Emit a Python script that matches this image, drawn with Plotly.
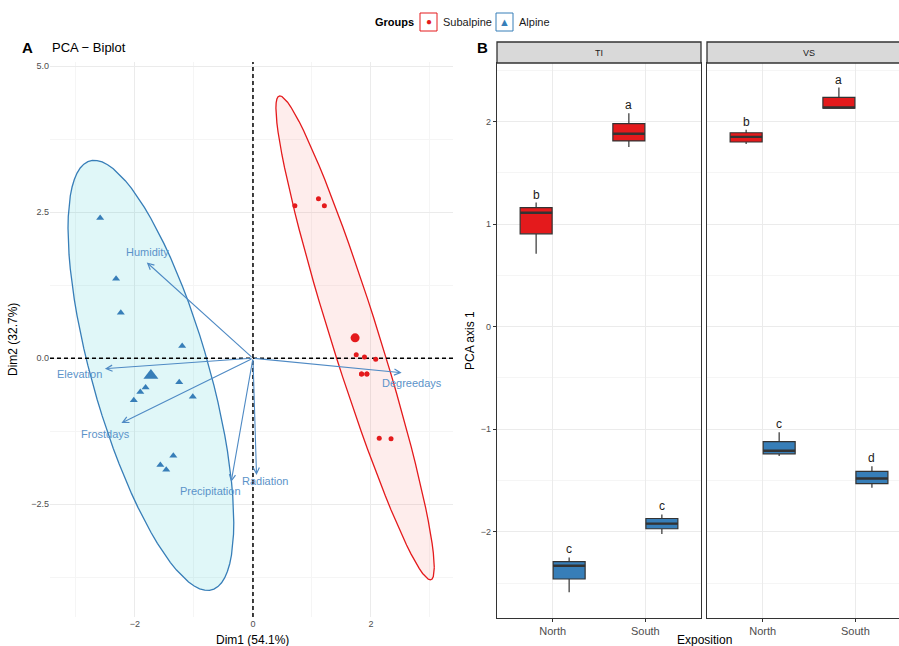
import numpy as np
import plotly.graph_objects as go

# ---------------- PCA biplot data ----------------
alpine_dim1 = [-2.59, -2.32, -2.24, -1.20, -1.25, -1.82, -1.91, -2.02, -1.02, -1.35, -1.57, -1.47]
alpine_dim2 = [2.40, 1.36, 0.78, 0.21, -0.41, -0.50, -0.58, -0.72, -0.66, -1.67, -1.83, -1.91]
subalpine_dim1 = [0.71, 1.11, 1.21, 1.75, 1.89, 2.08, 1.84, 1.93, 1.84, 1.93, 2.14, 2.34]
subalpine_dim2 = [2.61, 2.73, 2.61, 0.06, 0.02, -0.02, -0.27, -0.27, -0.27, -0.27, -1.37, -1.38]

variables = ["Humidity", "Elevation", "Frostdays", "Precipitation", "Radiation", "Degreedays"]
var_dim1 = [-1.80, -2.51, -2.23, -0.37, 0.06, 2.52]
var_dim2 = [1.64, -0.18, -1.11, -2.12, -2.00, -0.25]

# ---------------- Boxplot data (PCA axis 1) ----------------
exposition = ["North", "South"]

ti_sub_low = [0.71, 1.75]
ti_sub_q1 = [0.905, 1.81]
ti_sub_med = [1.11, 1.88]
ti_sub_q3 = [1.16, 1.98]
ti_sub_high = [1.21, 2.08]
ti_sub_letters = ["b", "a"]

ti_alp_low = [-2.59, -2.02]
ti_alp_q1 = [-2.46, -1.97]
ti_alp_med = [-2.33, -1.92]
ti_alp_q3 = [-2.29, -1.87]
ti_alp_high = [-2.25, -1.83]
ti_alp_letters = ["c", "c"]

vs_sub_low = [1.78, 2.13]
vs_sub_q1 = [1.80, 2.13]
vs_sub_med = [1.85, 2.135]
vs_sub_q3 = [1.89, 2.235]
vs_sub_high = [1.92, 2.33]
vs_sub_letters = ["b", "a"]

vs_alp_low = [-1.26, -1.57]
vs_alp_q1 = [-1.24, -1.53]
vs_alp_med = [-1.21, -1.48]
vs_alp_q3 = [-1.12, -1.41]
vs_alp_high = [-1.03, -1.36]
vs_alp_letters = ["c", "d"]

RED = "#E41A1C"
BLUE = "#377EB8"
VARCOL = "#4F8AC4"
BOXLINE = "#333333"
W, H = 899, 646


def px_x(p):
    return p / W


def px_y(p):
    return 1 - p / H


def norm_ellipse(x, y, level=0.95, segments=80):
    """Normal-theory data ellipse, as computed by ggplot2::stat_ellipse(type='norm')."""
    pts = np.column_stack([x, y])
    n = len(pts)
    center = pts.mean(axis=0)
    shape = np.cov(pts, rowvar=False)
    dfd = n - 1
    radius = np.sqrt(dfd * ((1 - level) ** (-2 / dfd) - 1))
    ang = np.linspace(0, 2 * np.pi, segments + 1)
    circle = np.column_stack([np.cos(ang), np.sin(ang)])
    L = np.linalg.cholesky(shape)
    ell = center + radius * circle @ L.T
    return ell[:, 0], ell[:, 1]


fig = go.Figure()

# ellipses
for xs, ys, line_c, fill_c in [
    (alpine_dim1, alpine_dim2, BLUE, "rgba(0,191,196,0.12)"),
    (subalpine_dim1, subalpine_dim2, RED, "rgba(248,118,109,0.13)"),
]:
    ex, ey = norm_ellipse(xs, ys)
    fig.add_trace(go.Scatter(x=ex, y=ey, mode="lines", fill="toself", fillcolor=fill_c,
                             line=dict(color=line_c, width=1.3), hoverinfo="skip",
                             showlegend=False, xaxis="x", yaxis="y"))

# dashed reference lines through the origin
XR = [-3.44, 3.39]
YR = [-4.43, 5.07]
fig.add_trace(go.Scatter(x=[0, 0], y=YR, mode="lines", hoverinfo="skip",
                         line=dict(color="black", width=1.5, dash="4px,3px"),
                         showlegend=False, xaxis="x", yaxis="y"))
fig.add_trace(go.Scatter(x=XR, y=[0, 0], mode="lines", hoverinfo="skip",
                         line=dict(color="black", width=1.5, dash="4px,3px"),
                         showlegend=False, xaxis="x", yaxis="y"))

# individuals
fig.add_trace(go.Scatter(x=alpine_dim1, y=alpine_dim2, mode="markers",
                         marker=dict(symbol="triangle-up", size=7, color=BLUE),
                         showlegend=False, xaxis="x", yaxis="y"))
fig.add_trace(go.Scatter(x=subalpine_dim1, y=subalpine_dim2, mode="markers",
                         marker=dict(symbol="circle", size=5, color=RED),
                         showlegend=False, xaxis="x", yaxis="y"))
# group means
fig.add_trace(go.Scatter(x=[np.mean(alpine_dim1)], y=[np.mean(alpine_dim2)], mode="markers",
                         marker=dict(symbol="triangle-up", size=13, color=BLUE),
                         showlegend=False, xaxis="x", yaxis="y"))
fig.add_trace(go.Scatter(x=[np.mean(subalpine_dim1)], y=[np.mean(subalpine_dim2)], mode="markers",
                         marker=dict(symbol="circle", size=9, color=RED),
                         showlegend=False, xaxis="x", yaxis="y"))

# ---------------- boxplots (dodged by group) ----------------
DODGE = 0.178
BOXW = 0.345
pos = np.arange(1, len(exposition) + 1)
box_sets = [
    ("x2", "y2", ti_sub_low, ti_sub_q1, ti_sub_med, ti_sub_q3, ti_sub_high, RED, -DODGE),
    ("x2", "y2", ti_alp_low, ti_alp_q1, ti_alp_med, ti_alp_q3, ti_alp_high, BLUE, DODGE),
    ("x3", "y3", vs_sub_low, vs_sub_q1, vs_sub_med, vs_sub_q3, vs_sub_high, RED, -DODGE),
    ("x3", "y3", vs_alp_low, vs_alp_q1, vs_alp_med, vs_alp_q3, vs_alp_high, BLUE, DODGE),
]
for xa, ya, lo, q1, md, q3, hi, col, off in box_sets:
    fig.add_trace(go.Box(x=pos + off, lowerfence=lo, q1=q1, median=md, q3=q3, upperfence=hi,
                         width=BOXW, fillcolor=col, line=dict(color=BOXLINE, width=1.2),
                         whiskerwidth=0, showlegend=False, xaxis=xa, yaxis=ya, hoverinfo="skip"))
    # bold median bar, as in ggplot's geom_boxplot
    mx, my = [], []
    for p, m in zip(pos, md):
        mx += [p + off - BOXW / 2, p + off + BOXW / 2, None]
        my += [m, m, None]
    fig.add_trace(go.Scatter(x=mx, y=my, mode="lines", line=dict(color=BOXLINE, width=2.4),
                             hoverinfo="skip", showlegend=False, xaxis=xa, yaxis=ya))

annotations = []
shapes = []

# letters above boxes
for xa, ya, highs, letters, off in [
    ("x2", "y2", ti_sub_high, ti_sub_letters, -DODGE),
    ("x2", "y2", ti_alp_high, ti_alp_letters, DODGE),
    ("x3", "y3", vs_sub_high, vs_sub_letters, -DODGE),
    ("x3", "y3", vs_alp_high, vs_alp_letters, DODGE),
]:
    for p, h, t in zip(pos, highs, letters):
        annotations.append(dict(x=p + off, y=h, xref=xa, yref=ya, text=t, showarrow=False,
                                xanchor="center", yanchor="bottom", yshift=-1,
                                font=dict(size=12, color="#1A1A1A")))

# variable arrows and labels
label_shift = {
    "Humidity": (1, 10), "Elevation": (-25, -5), "Frostdays": (-16, -11),
    "Precipitation": (-21, -9), "Radiation": (8, -6), "Degreedays": (10, -10),
}
for name, vx, vy in zip(variables, var_dim1, var_dim2):
    annotations.append(dict(x=vx, y=vy, ax=0, ay=0, xref="x", yref="y", axref="x", ayref="y",
                            text="", showarrow=True, arrowhead=5, arrowsize=1.1, arrowwidth=1.1,
                            arrowcolor=VARCOL, standoff=0))
    dx, dy = label_shift[name]
    annotations.append(dict(x=vx, y=vy, xref="x", yref="y", text=name, showarrow=False,
                            xanchor="center", yanchor="middle",
                            xshift=dx, yshift=dy, font=dict(size=11, color="#5B93C9")))


def paper_text(xp, yp, text, size, color="black", xanchor="center", angle=0):
    return dict(x=px_x(xp), y=px_y(yp), xref="paper", yref="paper", text=text, showarrow=False,
                xanchor=xanchor, yanchor="middle", textangle=angle,
                font=dict(size=size, color=color))


# facet strips
for x0, x1, lab, xc in [(497, 701, "TI", 599), (707, 915, "VS", 809)]:
    shapes.append(dict(type="rect", xref="paper", yref="paper", x0=px_x(x0), x1=px_x(x1),
                       y0=px_y(63), y1=px_y(42), fillcolor="#D9D9D9",
                       line=dict(color="#333333", width=1.3), layer="above"))
    annotations.append(paper_text(xc, 52.5, lab, 9, "#1A1A1A"))

# titles and axis labels
annotations += [
    paper_text(27, 48, "<b>A</b>", 15),
    paper_text(50, 48, "PCA \u2212 Biplot", 13, xanchor="left"),
    paper_text(482, 48, "<b>B</b>", 15),
    paper_text(252, 640, "Dim1 (54.1%)", 12),
    paper_text(13, 340, "Dim2 (32.7%)", 12, angle=-90),
    paper_text(704, 640, "Exposition", 12),
    paper_text(470, 340, "PCA axis 1", 12, angle=-90),
]

# legend
annotations.append(paper_text(373, 22, "<b>Groups</b>", 11, xanchor="left"))
for x0, col, sym, lab, sz in [(420, RED, "\u25CF", "Subalpine", 10), (496, BLUE, "\u25B2", "Alpine", 11)]:
    shapes.append(dict(type="rect", xref="paper", yref="paper", x0=px_x(x0), x1=px_x(x0 + 17),
                       y0=px_y(31), y1=px_y(13), fillcolor="white", line=dict(color=col, width=1)))
    annotations.append(paper_text(x0 + 8.5, 22, sym, sz, col))
    annotations.append(paper_text(x0 + 21, 22, lab, 11, "#1A1A1A", xanchor="left"))

tick_font = dict(size=9, color="#4D4D4D")
grid_major = "#EBEBEB"
grid_minor = "#F5F5F5"

box_x_common = dict(tickmode="array", tickvals=list(pos), ticktext=exposition,
                    showgrid=True, gridcolor=grid_major, zeroline=False, showline=True, mirror=True,
                    linecolor="#333333", linewidth=1.3, ticks="outside", ticklen=3,
                    tickcolor="#333333", tickfont=dict(size=11, color="#4D4D4D"))
box_y_common = dict(domain=[px_y(618), px_y(63)], range=[-2.84, 2.57], dtick=1, tick0=0,
                    showgrid=True, gridcolor=grid_major,
                    minor=dict(dtick=0.5, tick0=0, showgrid=True, gridcolor=grid_minor, gridwidth=0.7),
                    zeroline=False, showline=True, linecolor="#333333", linewidth=1.3)

fig.update_layout(
    width=W, height=H, margin=dict(l=0, r=0, t=0, b=0),
    paper_bgcolor="white", plot_bgcolor="white",
    font=dict(family="Liberation Sans, Arial, sans-serif", color="#1A1A1A"),
    showlegend=False, boxmode="overlay",
    xaxis=dict(domain=[px_x(50), px_x(453)], anchor="y", range=XR,
               tick0=0, dtick=2, showgrid=True, gridcolor=grid_major, gridwidth=1,
               minor=dict(dtick=1, tick0=0, showgrid=True, gridcolor=grid_minor, gridwidth=0.7),
               zeroline=False, showline=False, ticks="", tickfont=tick_font),
    yaxis=dict(domain=[px_y(617), px_y(62)], anchor="x", range=YR,
               tick0=0, dtick=2.5, tickformat=".1f", showgrid=True, gridcolor=grid_major, gridwidth=1,
               minor=dict(dtick=1.25, tick0=0, showgrid=True, gridcolor=grid_minor, gridwidth=0.7),
               zeroline=False, showline=False, ticks="", tickfont=tick_font),
    xaxis2=dict(domain=[px_x(497), px_x(701)], anchor="y2", range=[0.4, 2.6], **box_x_common),
    yaxis2=dict(anchor="x2", mirror=True, ticks="outside", ticklen=3, tickcolor="#333333",
                tickfont=tick_font, **box_y_common),
    xaxis3=dict(domain=[px_x(707), 1.0], anchor="y3", range=[0.4, 2.47], **box_x_common),
    yaxis3=dict(anchor="x3", mirror=False, ticks="", showticklabels=False, **box_y_common),
    annotations=annotations,
    shapes=shapes,
)

fig.write_html("out.html")
